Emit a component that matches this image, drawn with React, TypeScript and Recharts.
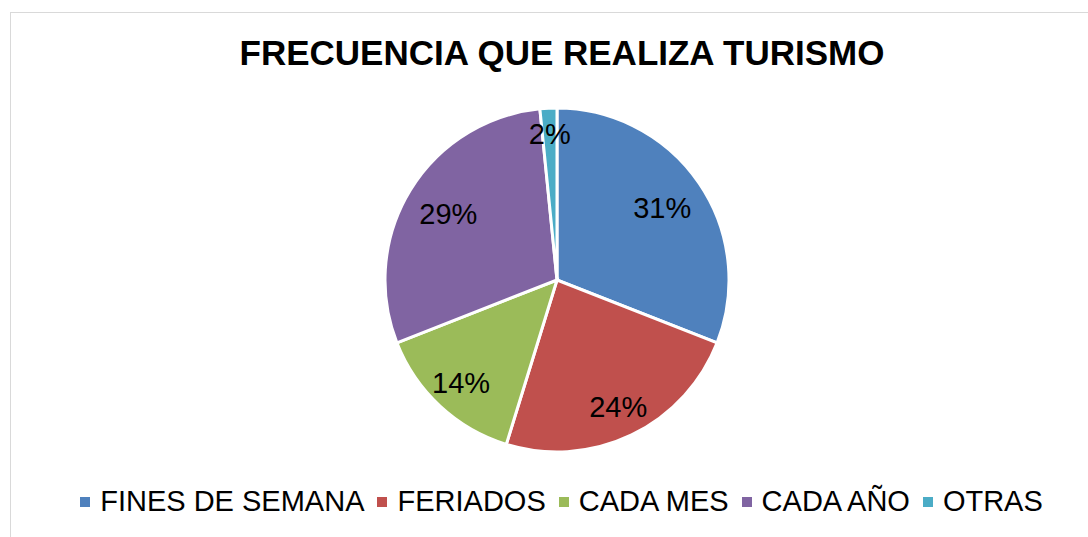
import { PieChart, Pie, Cell, Legend } from "recharts";

const categories = ["FINES DE SEMANA", "FERIADOS", "CADA MES", "CADA AÑO", "OTRAS"];
const counts = [39, 30, 18, 37, 2];
const colors = ["#4F81BD", "#C0504D", "#9BBB59", "#8064A2", "#4BACC6"];

const data = categories.map((name, i) => ({ name, value: counts[i] }));

const FONT = "'Liberation Sans', Arial, sans-serif";
const RAD = Math.PI / 180;

function renderLabel(props: any) {
  const { cx, cy, midAngle, outerRadius, percent } = props;
  const y0 = Math.sin(-midAngle * RAD);
  // Excel "best fit" pushes thin and lower slices' labels a bit outward
  let f = 0.74;
  if (percent < 0.05) f = 0.85;
  else if (y0 > 0) f = 0.82;
  const r = outerRadius * f;
  const x = cx + r * Math.cos(-midAngle * RAD);
  const y = cy + r * y0;
  return (
    <text
      x={x}
      y={y}
      fill="#000"
      textAnchor="middle"
      dominantBaseline="central"
      style={{ fontFamily: FONT, fontSize: 29 }}
    >
      {`${Math.round(percent * 100)}%`}
    </text>
  );
}

function LegendRow() {
  return (
    <div
      style={{
        display: "flex",
        justifyContent: "center",
        alignItems: "center",
        fontFamily: FONT,
        fontSize: 29,
        color: "#000",
        whiteSpace: "nowrap",
      }}
    >
      {categories.map((c, i) => (
        <span key={c} style={{ display: "flex", alignItems: "center", marginRight: i < categories.length - 1 ? 13 : 0 }}>
          <span style={{ width: 10, height: 10, background: colors[i], display: "inline-block", marginRight: 10 }} />
          {c}
        </span>
      ))}
    </div>
  );
}

export default function App() {
  return (
    <div
      style={{
        position: "fixed",
        left: 0,
        top: 0,
        width: 1088,
        height: 537,
        overflow: "hidden",
        background: "#fff",
      }}
    >
      <div
        style={{
          position: "absolute",
          left: 10,
          top: 12,
          width: 1100,
          height: 600,
          border: "1px solid #d9d9d9",
        }}
      />
      <div
        style={{
          position: "absolute",
          left: 0,
          top: 32,
          width: 1124,
          textAlign: "center",
          fontFamily: FONT,
          fontWeight: "bold",
          fontSize: 35,
          lineHeight: "42px",
          color: "#000",
        }}
      >
        FRECUENCIA QUE REALIZA TURISMO
      </div>
      <div style={{ position: "absolute", left: 0, top: 0 }}>
        <PieChart width={1088} height={537} margin={{ top: 0, right: 0, bottom: 0, left: 0 }}>
          <Pie
            data={data}
            dataKey="value"
            nameKey="name"
            cx={557}
            cy={280}
            outerRadius={172}
            startAngle={90}
            endAngle={-270}
            stroke="#fff"
            strokeWidth={3}
            label={renderLabel}
            labelLine={false}
            isAnimationActive={false}
          >
            {data.map((d, i) => (
              <Cell key={d.name} fill={colors[i]} />
            ))}
          </Pie>
          <Legend
            content={() => <LegendRow />}
            wrapperStyle={{ position: "absolute", left: 0, top: 485, width: 1123 }}
          />
        </PieChart>
      </div>
    </div>
  );
}
